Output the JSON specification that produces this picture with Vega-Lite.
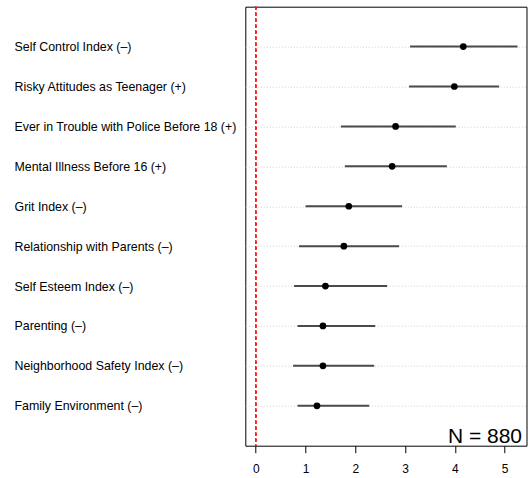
{
  "$schema": "https://vega.github.io/schema/vega-lite/v6.json",
  "autosize": {"type": "none"},
  "padding": {"left": 245.3, "top": 6.7, "right": 1.5, "bottom": 32},
  "width": 281.2,
  "height": 439,
  "background": "white",
  "data": {
    "values": [
      {"label": "Self Control Index (\u2013)", "lo": 3.10, "est": 4.17, "hi": 5.26},
      {"label": "Risky Attitudes as Teenager (+)", "lo": 3.08, "est": 3.99, "hi": 4.89},
      {"label": "Ever in Trouble with Police Before 18 (+)", "lo": 1.71, "est": 2.81, "hi": 4.02},
      {"label": "Mental Illness Before 16 (+)", "lo": 1.79, "est": 2.74, "hi": 3.84},
      {"label": "Grit Index (\u2013)", "lo": 1.00, "est": 1.87, "hi": 2.94},
      {"label": "Relationship with Parents (\u2013)", "lo": 0.87, "est": 1.77, "hi": 2.88},
      {"label": "Self Esteem Index (\u2013)", "lo": 0.77, "est": 1.40, "hi": 2.64},
      {"label": "Parenting (\u2013)", "lo": 0.84, "est": 1.35, "hi": 2.40},
      {"label": "Neighborhood Safety Index (\u2013)", "lo": 0.75, "est": 1.35, "hi": 2.38},
      {"label": "Family Environment (\u2013)", "lo": 0.84, "est": 1.23, "hi": 2.28}
    ]
  },
  "encoding": {
    "y": {
      "field": "label",
      "type": "nominal",
      "sort": null,
      "scale": {"type": "point", "padding": 1},
      "axis": {
        "title": null,
        "domain": false,
        "ticks": false,
        "labelAlign": "left",
        "labelPadding": 231.3,
        "labelFontSize": 12.4,
        "labelColor": "#000000",
        "labelFont": "Liberation Sans",
        "labelLimit": 0,
        "grid": true,
        "gridColor": "#d0d0d0",
        "gridDash": [1, 2],
        "gridWidth": 1
      }
    }
  },
  "layer": [
    {
      "mark": {"type": "rule", "color": "#ff2020", "strokeWidth": 1, "strokeDash": [3, 3]},
      "encoding": {"x": {"datum": 0}, "y": null}
    },
    {
      "mark": {"type": "rule", "color": "#4a4a4a", "strokeWidth": 2},
      "encoding": {
        "x": {
          "field": "lo",
          "type": "quantitative",
          "scale": {"domain": [-0.21, 5.44], "nice": false, "zero": false},
          "axis": {
            "title": null,
            "values": [0, 1, 2, 3, 4, 5],
            "format": "d",
            "grid": false,
            "domain": false,
            "tickSize": 7,
            "tickColor": "#000000",
            "labelPadding": 11,
            "labelFontSize": 12,
            "labelColor": "#000000",
            "labelFont": "Liberation Sans"
          }
        },
        "x2": {"field": "hi"}
      }
    },
    {
      "mark": {"type": "point", "filled": true, "color": "#000000", "opacity": 1, "size": 45},
      "encoding": {
        "x": {"field": "est", "type": "quantitative"}
      }
    },
    {
      "data": {"values": [{"note": "N = 880"}]},
      "mark": {
        "type": "text",
        "align": "right",
        "baseline": "alphabetic",
        "fontSize": 21,
        "font": "Liberation Sans",
        "color": "#000000",
        "x": {"expr": "width - 4.5"},
        "y": {"expr": "height - 2.5"}
      },
      "encoding": {"text": {"field": "note", "type": "nominal"}, "y": null}
    }
  ],
  "config": {
    "view": {"stroke": "#000000", "strokeWidth": 1}
  }
}
